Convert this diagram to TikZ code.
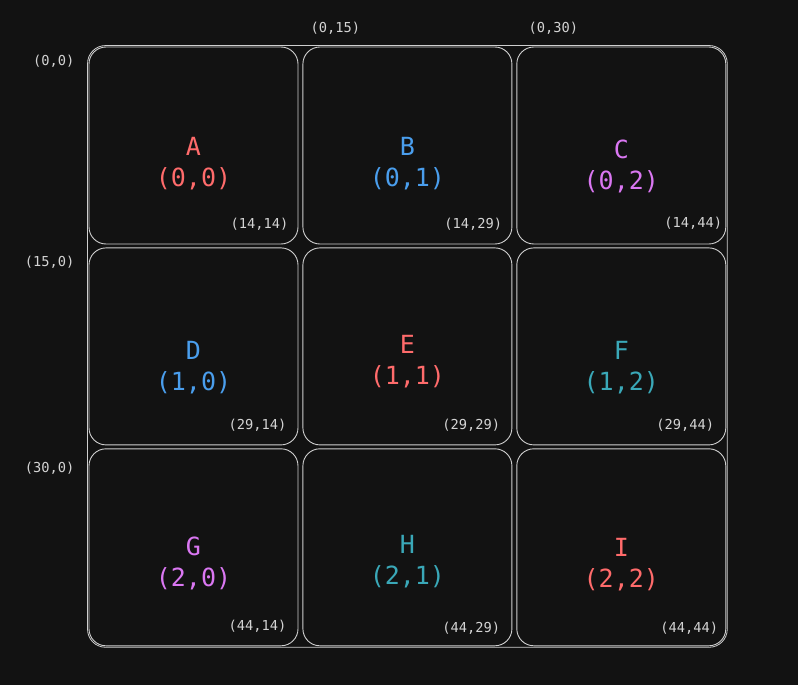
\documentclass[tikz,border=0pt]{standalone}
\usepackage{fontspec}
\setmonofont{DejaVu Sans Mono}
\usepackage{xcolor}
\usepackage{tikz}
\usetikzlibrary{positioning, fit, calc}
\definecolor{bgdark}{HTML}{121212}
\definecolor{edge}{HTML}{CFCFCF}
\definecolor{cred}{HTML}{FF6B6B}
\definecolor{cblue}{HTML}{4A9EED}
\definecolor{cviolet}{HTML}{DA77F2}
\definecolor{cteal}{HTML}{3AA8B8}
\definecolor{cgray}{HTML}{D4D4D4}

\begin{document}
\begin{tikzpicture}[
  x=1pt, y=-1pt,
  node distance=3pt and 4pt,
  cell/.style={draw=edge,line width=0.9pt,rounded corners=17pt,minimum width=209pt,
               minimum height=197pt,inner sep=0pt},
  frame/.style={draw=edge,line width=0.8pt,rounded corners=18pt,inner sep=1pt},
  tag/.style={font=\ttfamily\fontsize{25}{31}\selectfont,align=center,inner sep=0pt},
  coordlbl/.style={font=\ttfamily\fontsize{13.7}{15}\selectfont,text=cgray,inner sep=0pt},
]
\fill[bgdark] (0,0) rectangle (798,685);
\useasboundingbox (0,0) rectangle (798,685);

% cells
\node[cell] (A) at (193.5,145.5) {};
\node[cell, right=of A] (B) {};
\node[cell, right=of B] (C) {};
\node[cell, below=of A] (D) {};
\node[cell, right=of D] (E) {};
\node[cell, right=of E] (F) {};
\node[cell, below=of D] (G) {};
\node[cell, right=of G] (H) {};
\node[cell, right=of H] (I) {};
\node[frame, fit=(A)(I)] (grid) {};

% names and indices
\node[tag, text=cred]    (tA) at ([yshift=-18pt]A.center) {A\\(0,0)};
\node[tag, text=cblue]   (tB) at ([yshift=-18pt]B.center) {B\\(0,1)};
\node[tag, text=cviolet] (tC) at ([yshift=-21pt]C.center) {C\\(0,2)};
\node[tag, text=cblue]   (tD) at ([yshift=-21pt]D.center) {D\\(1,0)};
\node[tag, text=cred]    (tE) at ([yshift=-15pt]E.center) {E\\(1,1)};
\node[tag, text=cteal]   (tF) at ([yshift=-21pt]F.center) {F\\(1,2)};
\node[tag, text=cviolet] (tG) at ([yshift=-16pt]G.center) {G\\(2,0)};
\node[tag, text=cteal]   (tH) at ([yshift=-14pt]H.center) {H\\(2,1)};
\node[tag, text=cred]    (tI) at ([yshift=-17pt]I.center) {I\\(2,2)};

% start corners
\node[coordlbl, anchor=east] (s00) at ([shift={(-14pt,-15pt)}]A.north west) {(0,0)};
\node[coordlbl, anchor=west] (s015) at ([shift={(8pt,18pt)}]B.north west) {(0,15)};
\node[coordlbl, anchor=west] (s030) at ([shift={(12pt,18pt)}]C.north west) {(0,30)};
\node[coordlbl, anchor=east] (s150) at ([shift={(-14pt,-15pt)}]D.north west) {(15,0)};
\node[coordlbl, anchor=east] (s300) at ([shift={(-14pt,-20pt)}]G.north west) {(30,0)};

% end corners
\node[coordlbl, anchor=south east] (eA) at ([shift={(-10pt,14pt)}]A.south east) {(14,14)};
\node[coordlbl, anchor=south east] (eB) at ([shift={(-10pt,14pt)}]B.south east) {(14,29)};
\node[coordlbl, anchor=south east] (eC) at ([shift={(-4pt,15pt)}]C.south east) {(14,44)};
\node[coordlbl, anchor=south east] (eD) at ([shift={(-12pt,14pt)}]D.south east) {(29,14)};
\node[coordlbl, anchor=south east] (eE) at ([shift={(-12pt,14pt)}]E.south east) {(29,29)};
\node[coordlbl, anchor=south east] (eF) at ([shift={(-12pt,14pt)}]F.south east) {(29,44)};
\node[coordlbl, anchor=south east] (eG) at ([shift={(-12pt,14pt)}]G.south east) {(44,14)};
\node[coordlbl, anchor=south east] (eH) at ([shift={(-12pt,12pt)}]H.south east) {(44,29)};
\node[coordlbl, anchor=south east] (eI) at ([shift={(-8pt,12pt)}]I.south east) {(44,44)};
\end{tikzpicture}
\end{document}
